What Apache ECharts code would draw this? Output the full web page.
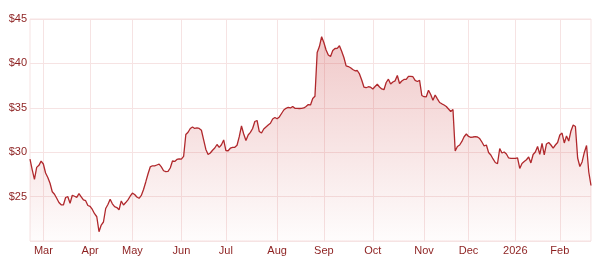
<!DOCTYPE html>
<html>
<head>
<meta charset="utf-8">
<script src="https://cdn.jsdelivr.net/npm/echarts@6/dist/echarts.min.js"></script>
<style>
  html, body { margin: 0; padding: 0; background: #ffffff; }
  #chart { width: 602px; height: 268px; }
</style>
</head>
<body>
<div id="chart"></div>
<script>
// Trading calendar (ASX): first and last session, and market holidays in between
const startDate = '2025-02-21';
const endDate = '2026-02-20';
const holidays = ['2025-04-18', '2025-04-21', '2025-04-25', '2025-06-09',
                  '2025-12-25', '2025-12-26', '2026-01-01', '2026-01-26'];

// Month tick labels (January shows the year)
const monthNames = ['Jan', 'Feb', 'Mar', 'Apr', 'May', 'Jun', 'Jul', 'Aug', 'Sep', 'Oct', 'Nov', 'Dec'];

// Y axis ticks
const yTicks = [20, 25, 30, 35, 40, 45];

// Closing prices, one per trading day
const prices = [
  29.21, 28.02, 26.93, 28.29, 28.52, 28.99, 28.67, 27.66, 27.15, 26.50,
  25.55, 25.27, 24.81, 24.34, 24.08, 24.06, 24.90, 24.99, 24.25, 25.15,
  25.04, 24.92, 25.33, 24.98, 24.62, 24.54, 24.00, 23.90, 23.55, 23.07,
  22.73, 21.05, 21.80, 22.14, 23.66, 24.11, 24.71, 24.19, 23.87, 23.77,
  23.52, 24.51, 24.06, 24.33, 24.64, 25.04, 25.39, 25.24, 24.96, 24.81,
  25.13, 25.80, 26.65, 27.55, 28.34, 28.47, 28.47, 28.56, 28.65, 28.34,
  27.91, 27.81, 27.83, 28.22, 29.01, 28.96, 29.18, 29.26, 29.21, 29.52,
  31.99, 32.25, 32.67, 32.84, 32.67, 32.73, 32.67, 32.47, 31.38, 30.31,
  29.74, 29.91, 30.22, 30.47, 30.87, 30.55, 30.84, 31.38, 30.19, 30.16,
  30.45, 30.55, 30.55, 30.78, 31.75, 32.95, 32.05, 31.32, 31.94, 32.24,
  32.67, 33.46, 33.57, 32.33, 32.16, 32.61, 32.84, 33.06, 33.26, 33.74,
  33.91, 33.76, 33.97, 34.36, 34.75, 34.94, 35.06, 34.98, 35.15, 34.94,
  34.94, 34.92, 34.94, 34.98, 35.15, 35.37, 35.32, 36.05, 36.30, 41.23,
  41.90, 43.00, 42.35, 41.51, 40.95, 40.78, 41.45, 41.68, 41.70, 41.99,
  41.36, 40.66, 39.73, 39.65, 39.51, 39.31, 39.17, 39.20, 38.81, 38.13,
  37.34, 37.26, 37.37, 37.32, 37.12, 37.40, 37.65, 37.34, 37.12, 37.04,
  37.85, 38.22, 37.68, 37.91, 38.04, 38.64, 37.74, 38.02, 38.19, 38.19,
  38.53, 38.55, 38.50, 38.08, 37.96, 38.08, 36.39, 36.25, 36.24, 36.97,
  36.50, 35.85, 36.44, 36.01, 35.60, 35.45, 35.32, 35.15, 34.87, 34.58,
  34.81, 30.14, 30.64, 30.81, 31.21, 31.74, 32.05, 31.77, 31.68, 31.71,
  31.75, 31.71, 31.54, 31.15, 30.70, 30.81, 29.97, 29.69, 29.24, 28.84,
  28.70, 30.42, 29.91, 30.02, 29.80, 29.35, 29.31, 29.31, 29.31, 29.37,
  28.17, 28.73, 28.95, 29.15, 29.46, 28.79, 29.74, 30.02, 30.64, 29.75,
  30.98, 29.69, 30.93, 31.09, 30.81, 30.47, 30.81, 31.09, 31.94, 32.16,
  31.04, 31.83, 31.26, 32.39, 33.06, 32.90, 29.35, 28.39, 28.90, 29.97,
  30.76, 27.77, 26.25
];

// Build trading-day categories
function buildDates() {
  const out = [];
  const hol = new Set(holidays);
  let d = new Date(startDate + 'T00:00:00Z');
  const end = new Date(endDate + 'T00:00:00Z');
  while (d <= end) {
    const wd = d.getUTCDay();
    const s = d.toISOString().slice(0, 10);
    if (wd !== 0 && wd !== 6 && !hol.has(s)) out.push(s);
    d = new Date(d.getTime() + 86400000);
  }
  return out;
}
const dates = buildDates();

function isMonthStart(i) {
  if (i <= 0 || i >= dates.length) return false;
  return dates[i].slice(0, 7) !== dates[i - 1].slice(0, 7);
}

const textColor = '#8c1f1f';
const lineColor = '#b0282c';
const gridColor = '#f6e3e3';

const chart = echarts.init(document.getElementById('chart'), null, { renderer: 'canvas' });
chart.setOption({
  animation: false,
  backgroundColor: '#ffffff',
  grid: {
    left: 30, right: 11, top: 19, bottom: 27,
    containLabel: false,
    show: true,
    borderColor: gridColor,
    borderWidth: 1
  },
  xAxis: {
    type: 'category',
    data: dates,
    boundaryGap: false,
    axisLine: { show: false },
    axisTick: { show: false },
    axisLabel: {
      interval: function (index) { return isMonthStart(index); },
      formatter: function (value) {
        const m = parseInt(value.slice(5, 7), 10) - 1;
        return m === 0 ? value.slice(0, 4) : monthNames[m];
      },
      color: textColor,
      fontFamily: 'Liberation Sans, Arial, sans-serif',
      fontSize: 11,
      margin: 4
    },
    splitLine: {
      show: true,
      interval: function (index) { return isMonthStart(index); },
      lineStyle: { color: gridColor, width: 1 }
    }
  },
  yAxis: {
    type: 'value',
    min: yTicks[0],
    max: yTicks[yTicks.length - 1],
    interval: yTicks[1] - yTicks[0],
    axisLine: { show: false },
    axisTick: { show: false },
    axisLabel: {
      showMinLabel: false,
      formatter: function (v) { return '$' + v; },
      color: textColor,
      fontFamily: 'Liberation Sans, Arial, sans-serif',
      fontSize: 11,
      margin: 3
    },
    splitLine: { show: true, lineStyle: { color: gridColor, width: 1 } }
  },
  series: [{
    type: 'line',
    data: prices,
    showSymbol: false,
    symbol: 'none',
    smooth: false,
    lineStyle: { color: lineColor, width: 1.3 },
    areaStyle: {
      color: new echarts.graphic.LinearGradient(0, 0, 0, 1, [
        { offset: 0, color: 'rgba(205, 70, 70, 0.42)' },
        { offset: 1, color: 'rgba(205, 70, 70, 0.02)' }
      ])
    }
  }]
});
</script>
</body>
</html>
